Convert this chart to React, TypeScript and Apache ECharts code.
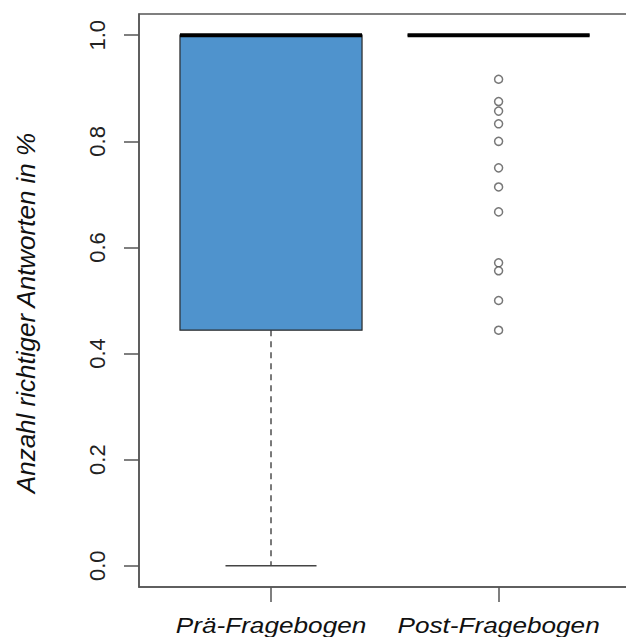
import React, { useEffect, useRef } from "react";
import * as echarts from "echarts";

// Data
const categories = ["Prä-Fragebogen", "Post-Fragebogen"];
const categoryPositions = [1, 2];
// [lower whisker, Q1, median, Q3, upper whisker]
const preStats = [0.0, 0.444, 1.0, 1.0, 1.0];
const postStats = [1.0, 1.0, 1.0, 1.0, 1.0];
const postOutliers = [0.917, 0.875, 0.857, 0.833, 0.8, 0.75, 0.714, 0.667, 0.571, 0.556, 0.5, 0.444];
const yTicks = [0, 0.2, 0.4, 0.6, 0.8, 1.0];
const yTitle = "Anzahl richtiger Antworten in %";

const FONT = "'Liberation Sans', Arial, sans-serif";

export default function App() {
  const ref = useRef<HTMLDivElement>(null);

  useEffect(() => {
    if (!ref.current) return;
    const chart = echarts.init(ref.current, undefined, { renderer: "svg" });

    const boxData = [
      [categoryPositions[0], ...preStats],
      [categoryPositions[1], ...postStats],
    ];
    const outlierData = postOutliers.map((v) => [categoryPositions[1], v]);

    const renderItem = (params: any, api: any) => {
      const x = api.value(0);
      const lo = api.value(1);
      const q1 = api.value(2);
      const med = api.value(3);
      const q3 = api.value(4);
      const hi = api.value(5);
      const pc = api.coord([x, med]);
      const half = api.coord([x + 0.4, med])[0] - pc[0];
      const capHalf = api.coord([x + 0.2, med])[0] - pc[0];
      const yLo = api.coord([x, lo])[1];
      const yQ1 = api.coord([x, q1])[1];
      const yQ3 = api.coord([x, q3])[1];
      const yHi = api.coord([x, hi])[1];
      const cx = pc[0];
      const children: any[] = [];
      const dashStyle = { stroke: "#333", lineWidth: 1.3, lineDash: [6, 5] };
      const capStyle = { stroke: "#444", lineWidth: 1.5 };
      if (yLo > yQ1) {
        children.push({ type: "line", shape: { x1: cx, y1: yQ1, x2: cx, y2: yLo }, style: dashStyle });
      }
      if (yHi < yQ3) {
        children.push({ type: "line", shape: { x1: cx, y1: yQ3, x2: cx, y2: yHi }, style: dashStyle });
      }
      children.push({ type: "line", shape: { x1: cx - capHalf, y1: yLo, x2: cx + capHalf, y2: yLo }, style: capStyle });
      children.push({ type: "line", shape: { x1: cx - capHalf, y1: yHi, x2: cx + capHalf, y2: yHi }, style: capStyle });
      children.push({
        type: "rect",
        shape: { x: cx - half, y: yQ3, width: 2 * half, height: yQ1 - yQ3 },
        style: { fill: "#4f93cd", stroke: "#2a2a2a", lineWidth: 1.2 },
      });
      children.push({
        type: "line",
        shape: { x1: cx - half, y1: pc[1], x2: cx + half, y2: pc[1] },
        style: { stroke: "#000", lineWidth: 4 },
      });
      return { type: "group", children };
    };

    chart.setOption({
      animation: false,
      backgroundColor: "#fff",
      grid: {
        left: 139,
        right: -4.6,
        top: 14,
        bottom: 50,
        show: true,
        borderColor: "#555",
        borderWidth: 1.5,
        backgroundColor: "transparent",
        outerBoundsMode: "none",
        containLabel: false,
      },
      xAxis: {
        type: "value",
        position: "bottom",
        min: 0.42,
        max: 2.58,
        splitLine: { show: false },
        axisLine: { show: true, onZero: false, lineStyle: { color: "#555", width: 1.5 } },
        axisTick: {
          show: true,
          inside: false,
          customValues: categoryPositions,
          length: 15,
          lineStyle: { color: "#555", width: 1.5 },
        },
        axisLabel: { show: false },
      },
      yAxis: {
        type: "value",
        min: -0.04,
        max: 1.04,
        splitLine: { show: false },
        axisLine: { show: true, onZero: false, lineStyle: { color: "#555", width: 1.5 } },
        axisTick: {
          show: true,
          customValues: yTicks,
          length: 15,
          lineStyle: { color: "#555", width: 1.5 },
        },
        axisLabel: {
          customValues: yTicks,
          formatter: (v: number) => v.toFixed(1),
          rotate: 90,
          fontFamily: FONT,
          fontSize: 22,
          color: "#222",
          margin: 31,
        },
      },
      series: [
        {
          type: "custom",
          renderItem,
          data: boxData,
          encode: { x: 0, y: [1, 2, 3, 4, 5] },
          silent: true,
        },
        {
          type: "scatter",
          data: outlierData,
          symbol: "circle",
          symbolSize: 8,
          itemStyle: { color: "#fff", borderColor: "#555", borderWidth: 1.5 },
          silent: true,
        },
      ],
    });

    // Category labels placed at the axis positions (horizontally stretched like the reference)
    const labelGraphics = categories.map((name, i) => {
      const px = chart.convertToPixel({ xAxisIndex: 0 }, categoryPositions[i]) as number;
      return {
        type: "text",
        x: px,
        y: 625,
        scaleX: 1.19,
        style: {
          text: name,
          font: `italic 22px ${FONT}`,
          fill: "#111",
          textAlign: "center",
          textVerticalAlign: "middle",
        },
      };
    });

    chart.setOption({
      graphic: [
        {
          type: "text",
          x: 26,
          y: 313,
          rotation: Math.PI / 2,
          style: {
            text: yTitle,
            font: `italic 26px ${FONT}`,
            fill: "#111",
            textAlign: "center",
            textVerticalAlign: "middle",
          },
        },
        ...labelGraphics,
      ],
    });

    return () => chart.dispose();
  }, []);

  return (
    <div
      ref={ref}
      style={{ position: "fixed", left: 0, top: 0, width: 626, height: 637, background: "#fff" }}
    />
  );
}
